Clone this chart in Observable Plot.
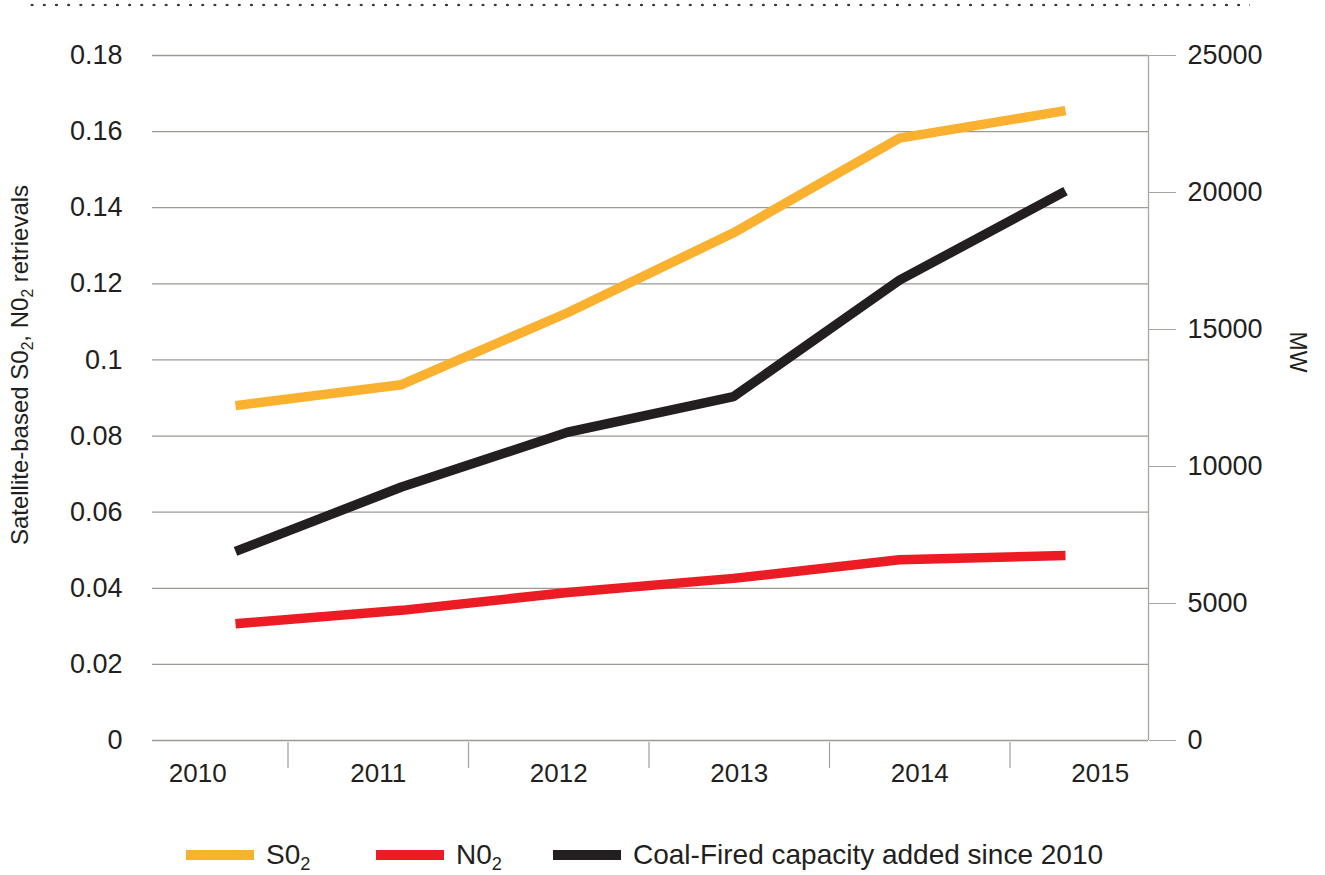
<!DOCTYPE html>
<html><head><meta charset="utf-8">
<script src="https://cdn.jsdelivr.net/npm/d3@7"></script>
<script src="https://cdn.jsdelivr.net/npm/@observablehq/plot@0.6"></script>
<style>
html,body{margin:0;padding:0;background:#fff;}
body{width:1325px;height:875px;position:relative;overflow:hidden;font-family:"Liberation Sans",Arial,Helvetica,sans-serif;color:#231f20;}
#dots{position:absolute;left:26px;top:3px;width:1224px;height:4px;background-image:radial-gradient(circle,#3a3a3a 1.1px,transparent 1.6px);background-size:12.2px 4px;background-repeat:repeat-x;}
#chart{position:absolute;left:0;top:0;}
#xaxis{position:absolute;left:0;top:739px;}
.rot{position:absolute;white-space:nowrap;line-height:1;}
#ytitle{left:20px;top:365px;font-size:24px;transform:translate(-50%,-50%) rotate(-90deg);}
#rtitle{left:1297px;top:352px;font-size:23px;transform:translate(-50%,-50%) rotate(90deg);}
sub{font-size:0.65em;vertical-align:baseline;position:relative;top:0.35em;line-height:0;}
#legend{position:absolute;left:186px;top:836px;height:38px;display:flex;align-items:center;font-size:28px;}
#legend .item{display:flex;align-items:center;}
#legend .sw{display:inline-block;width:68px;height:10px;margin-right:12px;}
</style>
</head><body>
<div id="dots"></div>
<div id="chart"></div>
<div id="xaxis"></div>
<div class="rot" id="ytitle">Satellite-based S0<sub>2</sub>, N0<sub>2</sub> retrievals</div>
<div class="rot" id="rtitle">MW</div>
<div id="legend"></div>
<script>
// ---- data ----
const years = [2010, 2011, 2012, 2013, 2014, 2015];
const so2 = [0.0880, 0.0935, 0.1124, 0.1334, 0.1583, 0.1655];
const no2 = [0.0307, 0.0342, 0.0389, 0.0426, 0.0475, 0.0486];
const coalMW = [6900, 9250, 11250, 12550, 16800, 20050];
const yTicks = [0, 0.02, 0.04, 0.06, 0.08, 0.1, 0.12, 0.14, 0.16, 0.18];
const mwTicks = [0, 5000, 10000, 15000, 20000, 25000];
const seriesNames = ["S0", "N0", "Coal-Fired capacity added since 2010"];
const seriesColors = ["#fbb130", "#ec1c24", "#231f20"];

const yMax = 0.18, mwMax = 25000;
const toLeft = mw => mw * yMax / mwMax;
const xDomain = [years[0] - 0.5, years[years.length - 1] + 0.5];

const rowsSO2 = years.map((y, i) => ({year: y, value: so2[i]}));
const rowsNO2 = years.map((y, i) => ({year: y, value: no2[i]}));
const rowsCoal = years.map((y, i) => ({year: y, value: toLeft(coalMW[i])}));

const font = '"Liberation Sans", Arial, Helvetica, sans-serif';
const lineOpts = {x: "year", y: "value", strokeWidth: 9.5, strokeLinecap: "butt", strokeLinejoin: "miter"};

const chart = Plot.plot({
  width: 1325, height: 820,
  marginLeft: 152, marginRight: 177, marginTop: 55, marginBottom: 80,
  style: {fontFamily: font, color: "#231f20", background: "transparent", overflow: "visible"},
  x: {type: "linear", domain: xDomain, axis: null},
  y: {domain: [0, yMax], axis: null},
  marks: [
    Plot.ruleY(yTicks, {stroke: "#9d9a93", strokeWidth: 1.3}),
    Plot.ruleX([xDomain[1]], {stroke: "#aaa69f", strokeWidth: 1.3}),
    Plot.axisY(yTicks, {anchor: "left", tickSize: 0, tickPadding: 30, fontSize: 27, tickFormat: d => String(d), label: null}),
    Plot.axisY(mwTicks.map(toLeft), {anchor: "right", tickSize: 27, tickPadding: 12, fontSize: 27,
      stroke: "#aaa69f", fill: "#231f20",
      tickFormat: d => String(Math.round(d * mwMax / yMax)), label: null}),
    Plot.line(rowsSO2, {...lineOpts, stroke: seriesColors[0]}),
    Plot.line(rowsNO2, {...lineOpts, stroke: seriesColors[1]}),
    Plot.line(rowsCoal, {...lineOpts, stroke: seriesColors[2]})
  ]
});
document.getElementById("chart").append(chart);

// category axis under the frame
const separators = years.slice(0, -1).map(y => y + 0.5);
const xaxis = Plot.plot({
  width: 1325, height: 60,
  marginLeft: 107, marginRight: 135, marginTop: 3, marginBottom: 31,
  style: {fontFamily: font, color: "#231f20", background: "transparent", overflow: "visible"},
  x: {type: "linear", domain: xDomain, axis: null},
  marks: [
    Plot.ruleX(separators, {stroke: "#a9a59e", strokeWidth: 1.3}),
    Plot.text(years, {x: d => d, text: d => String(d), frameAnchor: "bottom", dy: 5, lineAnchor: "middle", fontSize: 26, fill: "#231f20"})
  ]
});
document.getElementById("xaxis").append(xaxis);

// legend
const legend = document.getElementById("legend");
const widths = [190, 177, null];
seriesNames.forEach((name, i) => {
  const item = document.createElement("div");
  item.className = "item";
  if (widths[i]) item.style.width = widths[i] + "px";
  const sw = document.createElement("span");
  sw.className = "sw";
  sw.style.background = seriesColors[i];
  const label = document.createElement("span");
  label.textContent = name;
  if (i < 2) {
    const sub = document.createElement("sub");
    sub.textContent = "2";
    label.append(sub);
  }
  item.append(sw, label);
  legend.append(item);
});
</script>
</body></html>
